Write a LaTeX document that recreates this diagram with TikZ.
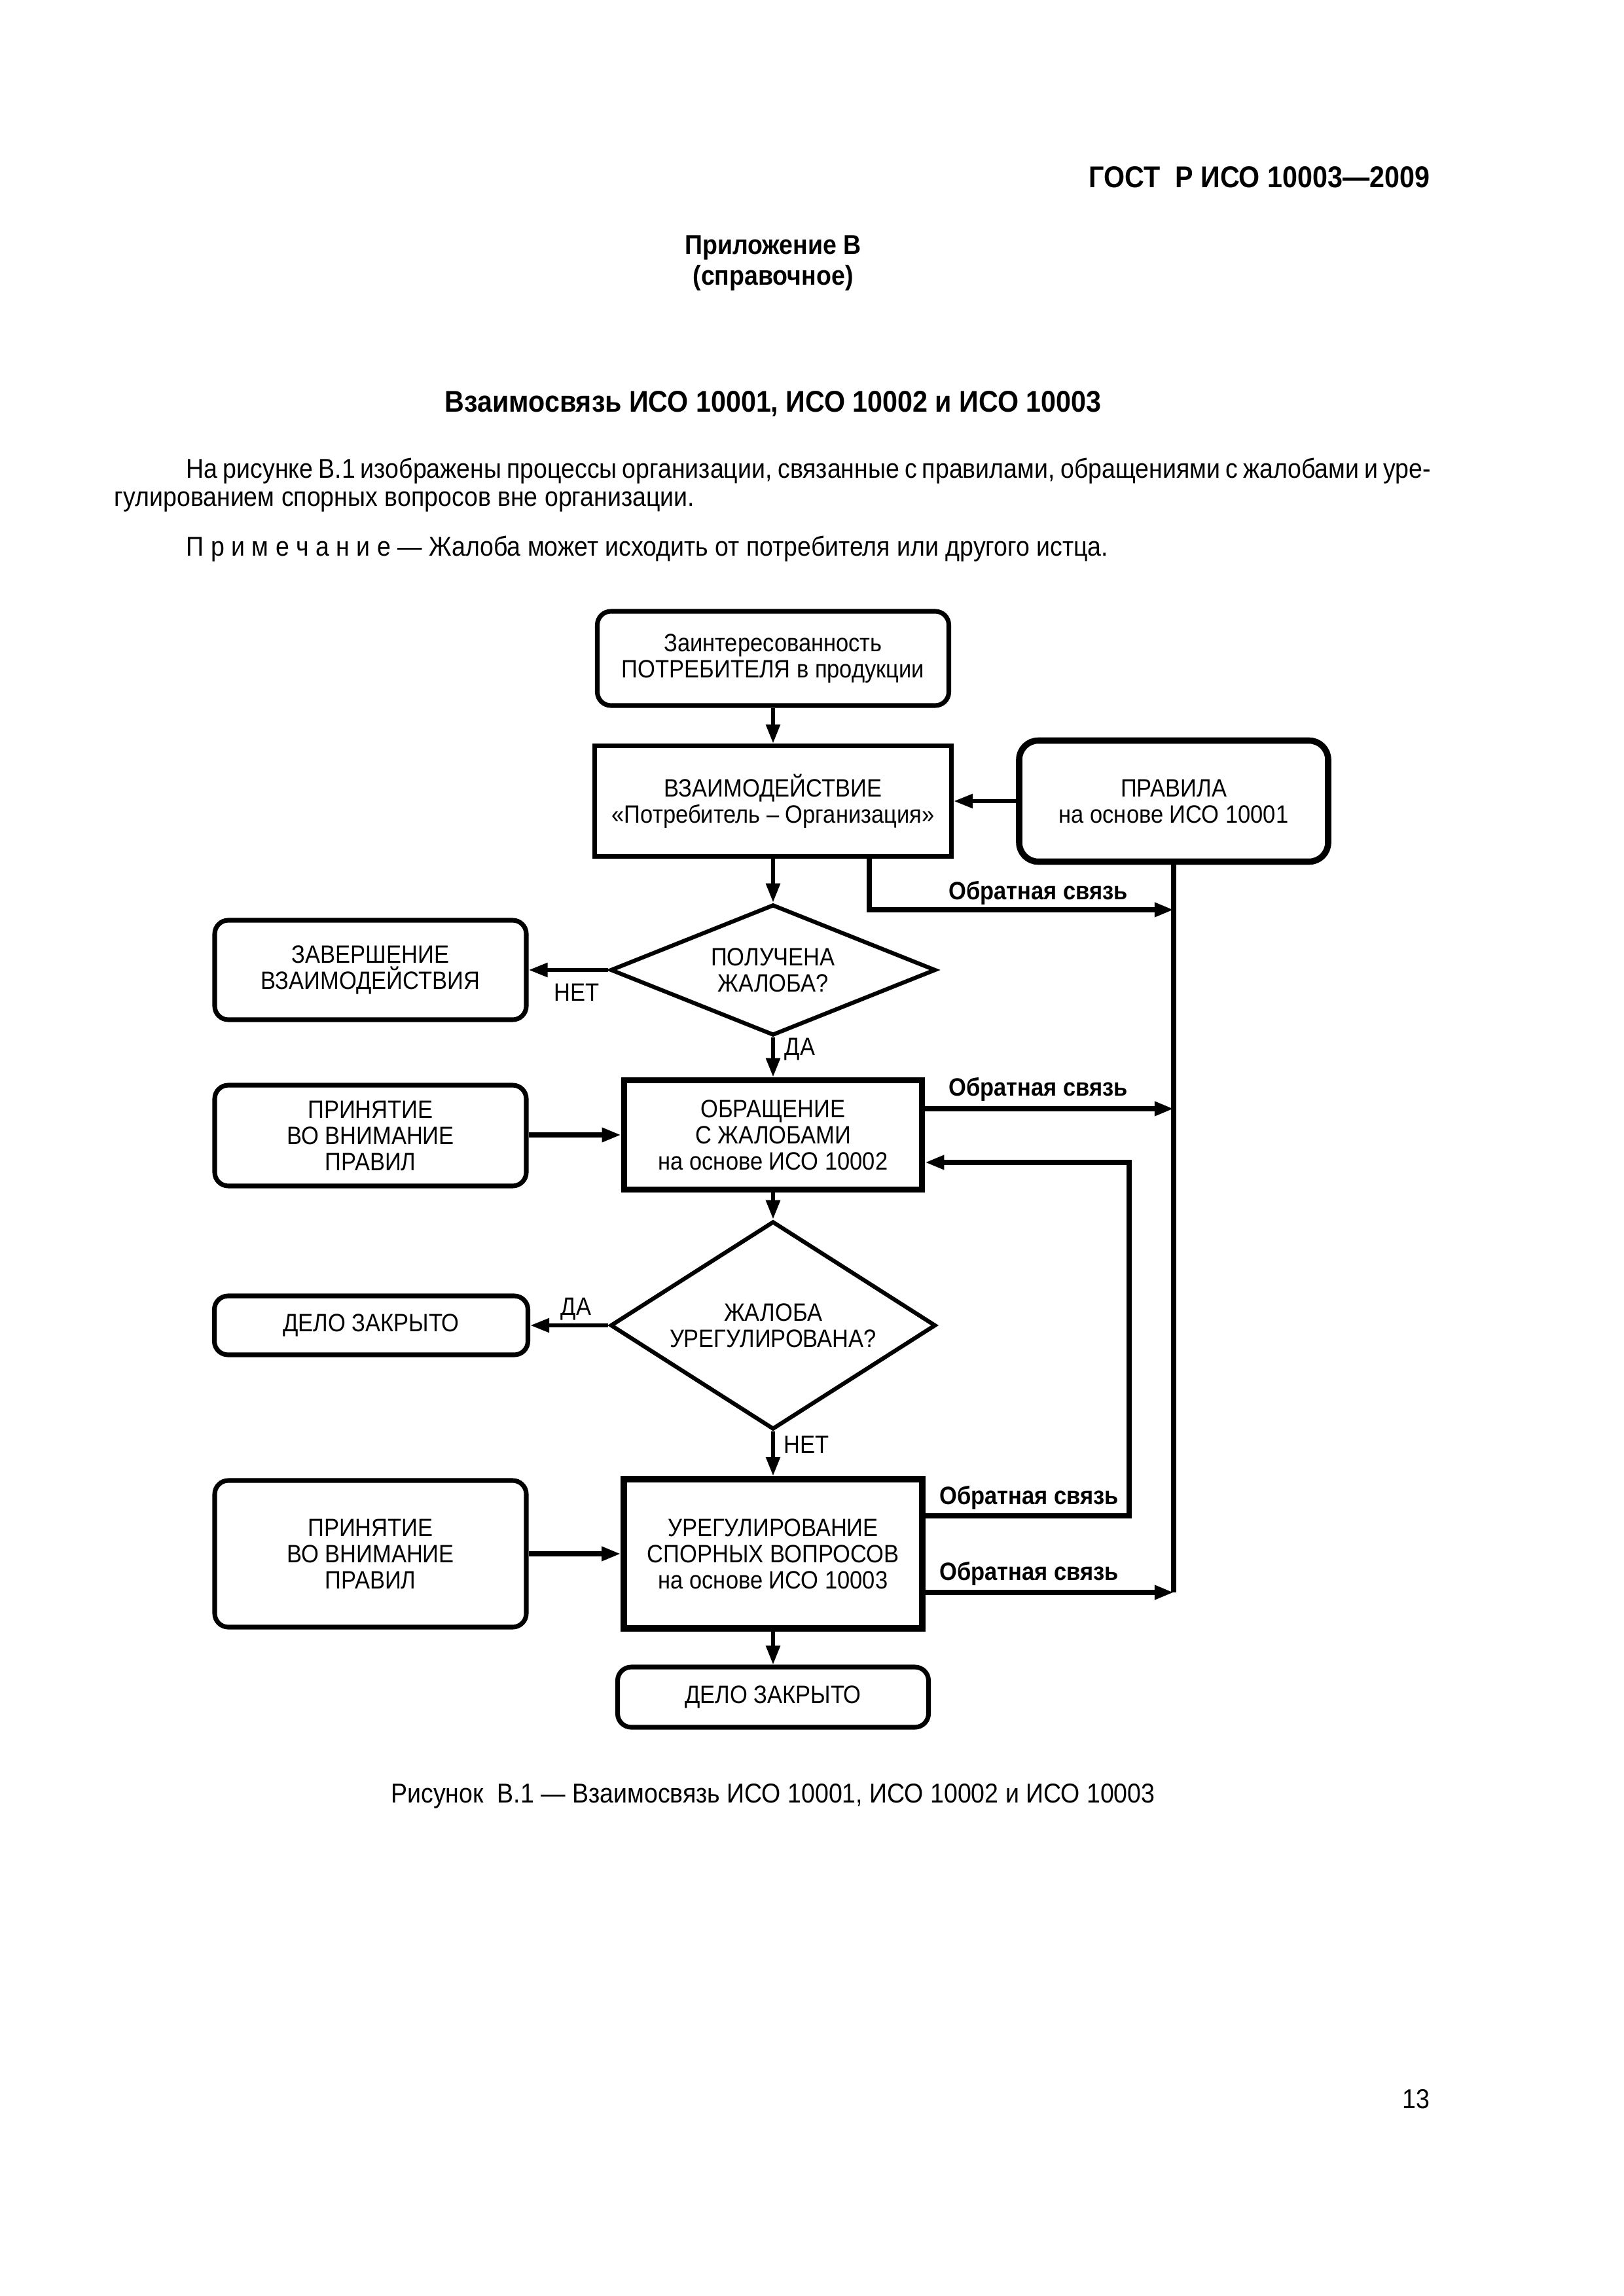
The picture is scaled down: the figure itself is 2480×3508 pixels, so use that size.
\documentclass[tikz,border=0pt]{standalone}
\usepackage{fontspec}
\setmainfont{Liberation Sans}[FakeStretch=0.9]
\usetikzlibrary{shapes.geometric,arrows.meta}
\newdimen\pxu \pxu=0.24pt
\begin{document}
\begin{tikzpicture}[x=0.24pt,y=-0.24pt,
  every node/.style={inner sep=0pt, font=\fontsize{9.2}{9.6}\selectfont},
  box/.style={draw, line width=1.7pt, align=center},
  rbox/.style={box, rounded corners=5pt},
  heavy/.style={line width=2.3pt},
  dia/.style={draw, diamond, line width=1.5pt, align=center},
  tipA/.style={-{Triangle[length=7pt,width=5pt]}},
  conn/.style={line width=1.5pt, tipA},
  fbline/.style={line width=1.7pt},
  fbconn/.style={fbline, tipA},
  lab/.style={font=\fontsize{9.2}{9.6}\selectfont\bfseries},
  pagetext/.style={font=\fontsize{10}{12}\selectfont},
  headbold/.style={font=\fontsize{11}{13}\selectfont\bfseries}]
\fill[white] (0,0) rectangle (2480,3508);
\useasboundingbox (0,0) rectangle (2480,3508);

% page text
\node[headbold, anchor=east] (hdr) at (2185,271) {ГОСТ\ \ Р ИСО 10003—2009};
\node[font=\fontsize{10}{12}\selectfont\bfseries] (app) at (1181,378) {Приложение В};
\node[font=\fontsize{10}{12}\selectfont\bfseries] (ref) at (1181,425) {(справочное)};
\node[headbold] (title) at (1181,617) {Взаимосвязь ИСО 10001, ИСО 10002 и ИСО 10003};
\node[pagetext, anchor=west] (p1) at (284,720) {\makebox[456.3pt][s]{На рисунке В.1 изображены процессы организации, связанные с правилами, обращениями с жалобами и уре-}};
\node[pagetext, anchor=west] (p2) at (174,767) {гулированием спорных вопросов вне организации.};
\node[pagetext, anchor=west] (note) at (284,839) {П р и м е ч а н и е — Жалоба может исходить от потребителя или другого истца.};
\node[pagetext] (cap) at (1181,2744) {Рисунок\ \ В.1 — Взаимосвязь ИСО 10001, ИСО 10002 и ИСО 10003};
\node[pagetext, anchor=east] (pg) at (2185,3207) {13};

% boxes
\node[rbox, minimum width=537\pxu, minimum height=144\pxu] (top) at (1181,1006) {Заинтересованность\\ПОТРЕБИТЕЛЯ в продукции};
\node[box, minimum width=545\pxu, minimum height=169\pxu] (vz) at (1181,1224) {ВЗАИМОДЕЙСТВИЕ\\«Потребитель – Организация»};
\node[rbox, heavy, rounded corners=7pt, minimum width=472\pxu, minimum height=185\pxu] (pr) at (1793,1224) {ПРАВИЛА\\на основе ИСО 10001};
\node[dia, aspect=2.485, minimum width=497\pxu, minimum height=200\pxu] (d1) at (1181,1482) {ПОЛУЧЕНА\\ЖАЛОБА?};
\node[rbox, minimum width=476\pxu, minimum height=152\pxu] (zav) at (566,1482) {ЗАВЕРШЕНИЕ\\ВЗАИМОДЕЙСТВИЯ};
\node[box, heavy, minimum width=455\pxu, minimum height=167\pxu] (obr) at (1181,1734) {ОБРАЩЕНИЕ\\С ЖАЛОБАМИ\\на основе ИСО 10002};
\node[rbox, minimum width=476\pxu, minimum height=154\pxu] (pn1) at (566,1735) {ПРИНЯТИЕ\\ВО ВНИМАНИЕ\\ПРАВИЛ};
\node[dia, aspect=1.563, minimum width=497\pxu, minimum height=318\pxu] (d2) at (1181,2025) {ЖАЛОБА\\УРЕГУЛИРОВАНА?};
\node[rbox, minimum width=479\pxu, minimum height=90\pxu] (dz1) at (567,2025) {ДЕЛО ЗАКРЫТО};
\node[box, heavy, minimum width=456\pxu, minimum height=228\pxu] (ur) at (1181,2374) {УРЕГУЛИРОВАНИЕ\\СПОРНЫХ ВОПРОСОВ\\на основе ИСО 10003};
\node[rbox, minimum width=476\pxu, minimum height=224\pxu] (pn2) at (566,2374) {ПРИНЯТИЕ\\ВО ВНИМАНИЕ\\ПРАВИЛ};
\node[rbox, minimum width=475\pxu, minimum height=92\pxu] (dz2) at (1181,2593) {ДЕЛО ЗАКРЫТО};

% junctions
\coordinate (s1) at (1328,1310);
\coordinate (j1) at (1793,1390);
\coordinate (j2) at (1793,1694);
\coordinate (j4) at (1793,2433);
\coordinate (k1) at (1725,2316);
\coordinate (k2) at (1725,1776);

% connectors
\draw[conn] (top.south) -- (vz.north);
\draw[conn] (pr.west) -- (vz.east);
\draw[conn] (vz.south) -- (d1.north);
\draw[fbconn] (vz.south -| s1) |- (j1);
\draw[fbline] (pr.south) -- (j4);
\draw[conn] (d1.west) -- (zav.east);
\draw[conn] (d1.south) -- (obr.north);
\draw[fbconn] (pn1.east |- obr.west) -- (obr.west);
\draw[fbconn] (obr.east |- j2) -- (j2);
\draw[conn] (obr.south) -- (d2.north);
\draw[conn] (d2.west) -- (dz1.east);
\draw[conn] (d2.south) -- (ur.north);
\draw[fbconn] (pn2.east) -- (ur.west);
\draw[fbconn] (ur.east |- k1) -- (k1) -- (k2) -- (obr.east |- k2);
\draw[fbconn] (ur.east |- j4) -- (j4);
\draw[conn] (ur.south) -- (dz2.north);

% labels
\node[lab] (fb1) at (1586,1364) {Обратная связь};
\node[lab] (fb2) at (1586,1664) {Обратная связь};
\node[lab] (fb3) at (1572,2288) {Обратная связь};
\node[lab] (fb4) at (1572,2404) {Обратная связь};
\node (no1) at (881,1516) {НЕТ};
\node (yes1) at (1222,1603) {ДА};
\node (yes2) at (880,2000) {ДА};
\node (no2) at (1232,2207) {НЕТ};
\end{tikzpicture}
\end{document}
